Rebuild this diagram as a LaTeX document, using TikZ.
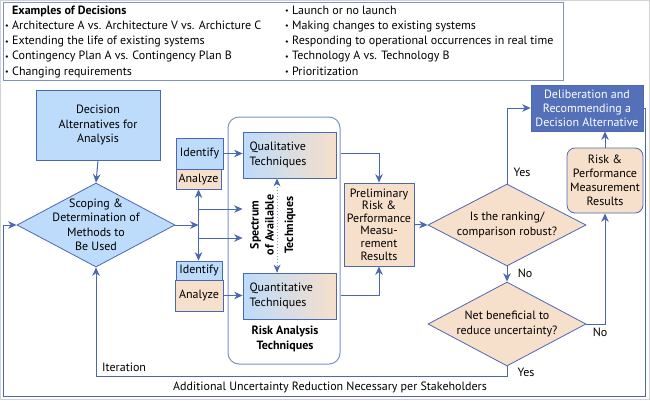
\documentclass[tikz,border=0pt]{standalone}
\usepackage{fontspec}
\setmainfont{PT Sans}
\usetikzlibrary{shapes.geometric,arrows.meta}
\definecolor{lblue}{HTML}{BDDBFA}
\definecolor{peach}{HTML}{F6DFCB}
\definecolor{dblue}{HTML}{5370B9}
\definecolor{bord}{HTML}{4B68B4}
\definecolor{cline}{HTML}{4B66B2}
\definecolor{rbord}{HTML}{7A90CC}
\definecolor{exbord}{HTML}{7D92C9}
\newcommand\bl{\makebox[7pt][l]{\raisebox{0.5pt}{\fontsize{8}{8}\selectfont •}}}
\begin{document}
\begin{tikzpicture}[x=1pt,y=-1pt,
  every node/.style={font=\fontsize{12}{14.5}\selectfont, inner sep=0pt, text=black},
  extxt/.style={anchor=west, text height=9pt, text depth=3pt},
  bluebox/.style={draw=bord, line width=0.8pt, fill=lblue, align=center},
  peachbox/.style={draw=bord, line width=0.8pt, fill=peach, align=center},
  dia/.style={diamond, draw=bord, line width=0.8pt, inner sep=0pt},
  lbl/.style={align=center},
  conn/.style={draw=cline, line width=1pt, -{Stealth[length=8.5pt,width=7.5pt]}},
  techbox/.style={draw=bord, line width=0.8pt, left color=lblue, middle color=lblue!75!peach, right color=peach, minimum width=93pt, minimum height=46pt, text width=80pt, align=left},
  boldtxt/.style={font=\bfseries\fontsize{12}{15}\selectfont, align=center}]
\path[use as bounding box] (0,0) rectangle (650,400);
\draw[gray!35, line width=1pt] (0.5,0.5) rectangle (649.5,399.5);

% examples box
\node[draw=exbord, line width=1pt, minimum width=560pt, minimum height=78pt, anchor=north west] (ex) at (3,2) {};
\node[extxt] (exh) at (12,11) {\textbf{Examples of Decisions}};
\foreach \t [count=\i] in {{Architecture A vs. Architecture V vs. Archicture C},{Extending the life of existing systems},{Contingency Plan A vs. Contingency Plan B},{Changing requirements}}
  \node[extxt] (exl\i) at (5,{11+15.25*\i}) {\bl\t};
\foreach \t [count=\i] in {{Launch or no launch},{Making changes to existing systems},{Responding to operational occurrences in real time},{Technology A vs. Technology B},{Prioritization}}
  \node[extxt] (exr\i) at (285,{11+15.25*(\i-1)}) {\bl\t};

% left part
\node[bluebox, minimum width=124pt, minimum height=70pt] (decalt) at (98,125) {Decision\\Alternatives for\\Analysis};
\node[dia, fill=lblue, minimum width=158pt, minimum height=84pt, label={[lbl]center:Scoping \&\\Determination of\\Methods to\\Be Used}] (scope) at (96,225) {};

\node[bluebox, minimum width=47pt, minimum height=31pt] (idU) at (199.5,153.5) {Identify};
\node[peachbox, minimum width=45pt, minimum height=20pt] (anaU) at (198.5,179) {Analyze};
\node[bluebox, minimum width=46pt, minimum height=19pt] (idL) at (199,270.5) {Identify};
\node[peachbox, minimum width=48pt, minimum height=31pt] (anaL) at (199,295.5) {Analyze};

% risk analysis techniques
\node[draw=rbord, line width=1pt, rounded corners=11pt, minimum width=112pt, minimum height=247pt] (rb) at (284,240.5) {};
\node[techbox] (qual) at (289.5,155) {Qualitative\\Techniques};
\node[techbox] (quant) at (289.5,296) {Quantitative\\Techniques};
\node[boldtxt, rotate=90] (spec1) at (262,225) {Spectrum\\of Available};
\node[boldtxt, rotate=90] (spec2) at (290,225) {Techniques};
\node[boldtxt] (rat) at (285,339) {Risk Analysis\\Techniques};
\coordinate (dq) at (277,0);
\draw[draw=cline!70, line width=1pt, dotted] (dq |- qual.south) -- (dq |- quant.north);
\draw[draw=none, fill=cline] (dq |- qual.south) -- ++(-3.5,8) -- ++(3.5,-2.5) -- ++(3.5,2.5) -- cycle;
\draw[draw=none, fill=cline] (dq |- quant.north) -- ++(-3.5,-8) -- ++(3.5,2.5) -- ++(3.5,-2.5) -- cycle;

\node[peachbox, minimum width=70pt, minimum height=83pt, font=\fontsize{12}{12.6}\selectfont] (prelim) at (379,224.5) {Preliminary\\Risk \&\\Performance\\Measu-\\rement\\Results};

% right part
\node[dia, fill=peach, minimum width=158pt, minimum height=82pt, label={[lbl]center:Is the ranking/\\comparison robust?}] (robust) at (507,225) {};
\node[dia, fill=peach, minimum width=158pt, minimum height=84pt, label={[lbl]center:Net beneficial to\\reduce uncertainty?}] (net) at (507,324) {};
\node[draw=bord, line width=0.8pt, fill=dblue, text=white, align=center, minimum width=112pt, minimum height=46pt, font=\fontsize{12}{14}\selectfont] (delib) at (587,108) {Deliberation and\\Recommending a\\Decision Alternative};
\node[peachbox, rounded corners=8pt, minimum width=76pt, minimum height=65pt, font=\fontsize{12}{14}\selectfont] (rperf) at (605,180.5) {Risk \&\\Performance\\Measurement\\Results};

% connectors
\coordinate (j) at (198.5,225);
\coordinate (h1) at (198.5,209);
\coordinate (h2) at (198.5,238);
\draw[conn] (decalt.south) -- (scope.north);
\draw[conn] (scope.east) -- (j);
\draw[conn] (j) -- (j |- anaU.south);
\draw[conn] (j) -- (j |- idL.north);
\draw[conn] (h1) -- (qual.west |- h1);
\draw[conn] (h2) -- (qual.west |- h2);
\draw[conn] (idU.east) -- (qual.west |- idU.east);
\draw[conn] (anaL.east) -- (quant.west |- anaL.east);
\draw[conn] (rb.east |- idU.east) -| (prelim.north);
\draw[conn] (rb.east |- anaL.east) -| (prelim.south);
\draw[conn] (prelim.east) -- (robust.west);
\draw[conn] (robust.north) |- (delib.west);
\draw[conn] (rperf.north) -- (rperf.north |- delib.south);
\draw[conn] (robust.south) -- (net.north);
\draw[conn] (net.east) -| (rperf.south);
\coordinate (yb) at (0,376);
\draw[conn] (net.south) -- (net.south |- yb) -| (scope.south);
\coordinate (o1) at (645.5,396);
\coordinate (o2) at (3.5,396);
\draw[conn] (delib.east) -| (o1) -- (o2) |- (scope.west);

% labels
\node (yes1) at (522,172) {Yes};
\node (no1) at (525,273) {No};
\node (no2) at (600,332) {No};
\node (yes2) at (526,372) {Yes};
\node[anchor=west] (iter) at (102,367) {Iteration};
\node (addl) at (330,387) {Additional Uncertainty Reduction Necessary per Stakeholders};
\end{tikzpicture}
\end{document}
